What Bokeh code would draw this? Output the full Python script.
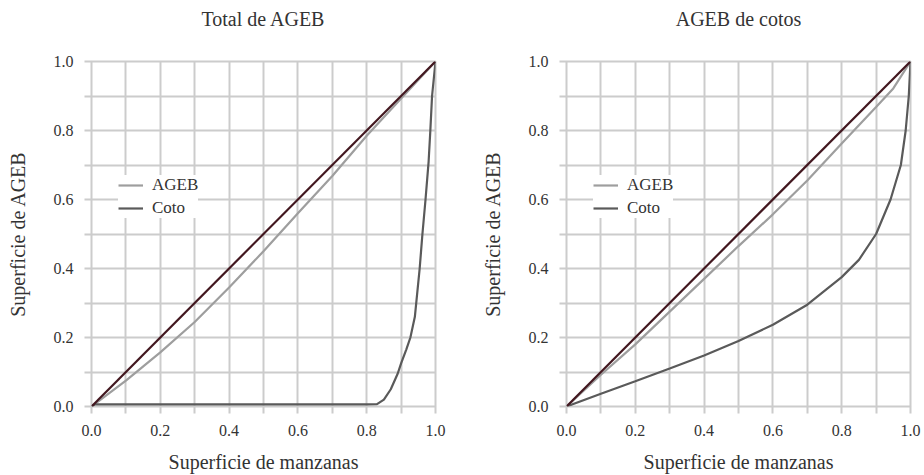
from bokeh.plotting import figure
from bokeh.layouts import row
from bokeh.models import Range1d, FixedTicker, Legend, LegendItem, PrintfTickFormatter, Title
from bokeh.embed import file_html
from bokeh.resources import INLINE

# ---- data ----
titles = ["Total de AGEB", "AGEB de cotos"]
x_label = "Superficie de manzanas"
y_label = "Superficie de AGEB"
series_names = ["AGEB", "Coto"]

major_ticks = [0.0, 0.2, 0.4, 0.6, 0.8, 1.0]
minor_ticks = [0.1, 0.3, 0.5, 0.7, 0.9]

diag_x = [0.0, 1.0]
diag_y = [0.0, 1.0]

# Left panel (Total de AGEB)
l_ageb_x = [0.0, 0.1, 0.2, 0.3, 0.4, 0.5, 0.6, 0.7, 0.8, 0.9, 1.0]
l_ageb_y = [0.0, 0.075, 0.157, 0.245, 0.345, 0.45, 0.56, 0.668, 0.785, 0.893, 1.0]
l_coto_x = [0.0, 0.01, 0.2, 0.4, 0.6, 0.8, 0.83, 0.85, 0.87, 0.89, 0.9, 0.915, 0.927, 0.94, 0.954, 0.962, 0.971, 0.98, 0.985, 0.99, 1.0]
l_coto_y = [0.0, 0.006, 0.006, 0.006, 0.006, 0.006, 0.007, 0.02, 0.05, 0.095, 0.125, 0.165, 0.2, 0.26, 0.4, 0.5, 0.6, 0.71, 0.8, 0.9, 1.0]

# Right panel (AGEB de cotos)
r_ageb_x = [0.0, 0.1, 0.2, 0.3, 0.4, 0.5, 0.6, 0.7, 0.8, 0.9, 0.95, 1.0]
r_ageb_y = [0.0, 0.092, 0.18, 0.275, 0.37, 0.465, 0.557, 0.655, 0.762, 0.868, 0.922, 1.0]
r_coto_x = [0.0, 0.1, 0.2, 0.3, 0.4, 0.5, 0.6, 0.7, 0.8, 0.85, 0.9, 0.942, 0.972, 0.986, 0.995, 1.0]
r_coto_y = [0.0, 0.037, 0.073, 0.11, 0.148, 0.19, 0.237, 0.295, 0.375, 0.425, 0.5, 0.6, 0.7, 0.8, 0.9, 1.0]

# ---- styles ----
FONT = "Liberation Serif"
TXT = "#333333"
GRID = "#cccccc"
C_AGEB = "#9e9e9e"
C_COTO = "#5a5a5a"
C_DIAG = "#42171f"


def make_panel(title, ax, ay, cx, cy, border_left, border_right):
    p = figure(frame_width=344, frame_height=345,
               min_border_left=border_left, min_border_right=border_right,
               min_border_top=61, min_border_bottom=69,
               x_range=Range1d(0, 1), y_range=Range1d(0, 1),
               output_backend="svg", toolbar_location=None,
               title=title)
    p.title.text_font = FONT
    p.title.text_font_size = "20px"
    p.title.text_font_style = "normal"
    p.title.text_color = TXT
    p.title.align = "center"
    p.title.vertical_align = "bottom"
    p.title.standoff = 0
    # blank spacer between the frame and the title
    p.add_layout(Title(text=" ", text_font_size="1px", standoff=29), "above")

    p.outline_line_color = GRID
    p.outline_line_width = 2
    p.background_fill_color = "white"
    p.border_fill_color = "white"

    ticker = FixedTicker(ticks=major_ticks, minor_ticks=minor_ticks)
    for ax_ in (p.xaxis[0], p.yaxis[0]):
        ax_.ticker = ticker
        ax_.formatter = PrintfTickFormatter(format="%.1f")
        ax_.axis_line_color = None
        ax_.major_tick_line_color = GRID
        ax_.major_tick_line_width = 2
        ax_.major_tick_out = 7
        ax_.major_tick_in = 0
        ax_.minor_tick_line_color = GRID
        ax_.minor_tick_line_width = 2
        ax_.minor_tick_out = 7
        ax_.minor_tick_in = 0
        ax_.major_label_text_font = FONT
        ax_.major_label_text_font_size = "16px"
        ax_.major_label_text_color = TXT
        ax_.axis_label_text_font = FONT
        ax_.axis_label_text_font_size = "20px"
        ax_.axis_label_text_font_style = "normal"
        ax_.axis_label_text_color = TXT
    p.xaxis[0].major_label_standoff = 11
    p.yaxis[0].major_label_standoff = 11
    p.xaxis[0].axis_label = x_label
    p.yaxis[0].axis_label = y_label
    p.xaxis[0].axis_label_standoff = 12
    p.yaxis[0].axis_label_standoff = 22
    p.yaxis[0].major_label_orientation = "horizontal"

    for g in (p.xgrid[0], p.ygrid[0]):
        g.ticker = ticker
        g.grid_line_color = GRID
        g.grid_line_width = 2
        g.minor_grid_line_color = GRID
        g.minor_grid_line_width = 2

    r1 = p.line(ax, ay, line_color=C_AGEB, line_width=2.2)
    r2 = p.line(cx, cy, line_color=C_COTO, line_width=2.2)
    p.line(diag_x, diag_y, line_color=C_DIAG, line_width=2.2)

    legend = Legend(items=[LegendItem(label=series_names[0], renderers=[r1]),
                           LegendItem(label=series_names[1], renderers=[r2])],
                    location=(27, 188))
    legend.background_fill_color = "white"
    legend.background_fill_alpha = 1
    legend.border_line_color = None
    legend.padding = 7
    legend.margin = 0
    legend.spacing = 3
    legend.label_height = 16
    legend.glyph_height = 16
    legend.glyph_width = 25
    legend.label_standoff = 9
    legend.label_text_font = FONT
    legend.label_text_font_size = "17px"
    legend.label_text_color = TXT
    p.add_layout(legend, "center")
    return p


p1 = make_panel(titles[0], l_ageb_x, l_ageb_y, l_coto_x, l_coto_y, 91, 23)
p2 = make_panel(titles[1], r_ageb_x, r_ageb_y, r_coto_x, r_coto_y, 108, 14)

layout = row(p1, p2)
open("out.html", "w").write(file_html(layout, INLINE))
